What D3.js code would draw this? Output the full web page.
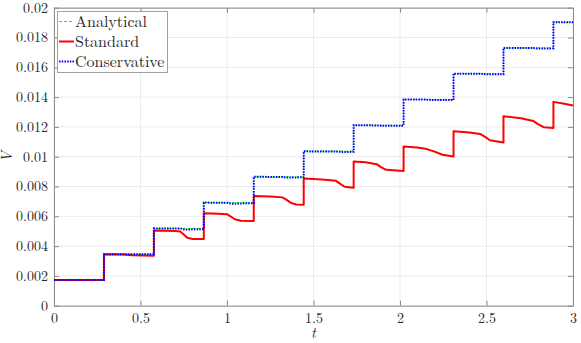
<!doctype html>
<html>
<head>
<style>
  body { margin: 0; background: #fff; }
  svg text { font-family: "Latin Modern Roman", "Liberation Serif", serif; fill: #262626; }
</style>
<script src="https://d3js.org/d3.v7.min.js"></script>
</head>
<body>
<svg width="581" height="343"></svg>
<script>
// jump instants and the exact (analytical) level after each jump
var jumpTimes = [0, 0.2887, 0.5774, 0.866, 1.1547, 1.4434, 1.7321, 2.0207, 2.3094, 2.5981, 2.8868, 3];
var analyticalLevels = [0.00173, 0.00346, 0.00519, 0.00692, 0.00865, 0.01038, 0.01211, 0.01384, 0.01557, 0.0173, 0.01903, 0.01903];

// conservative scheme, nearly on top of the analytical one
var conservative = [
  [0, 0.00173], [0.2887, 0.00173], [0.2887, 0.00346], [0.5774, 0.00345],
  [0.5774, 0.00519], [0.73, 0.00518], [0.76, 0.00510], [0.78, 0.00512], [0.866, 0.00514],
  [0.866, 0.00692], [1.0, 0.00691], [1.03, 0.00684], [1.06, 0.00686], [1.1547, 0.00688],
  [1.1547, 0.00865], [1.32, 0.00864], [1.35, 0.00860], [1.4434, 0.00862],
  [1.4434, 0.01036], [1.64, 0.01034], [1.67, 0.01031], [1.7321, 0.01033],
  [1.7321, 0.01211], [1.87, 0.01210], [1.90, 0.01207], [2.0207, 0.01208],
  [2.0207, 0.01384], [2.16, 0.01383], [2.19, 0.01380], [2.3094, 0.01381],
  [2.3094, 0.01557], [2.47, 0.01556], [2.50, 0.01553], [2.5981, 0.01554],
  [2.5981, 0.0173], [2.77, 0.01729], [2.80, 0.01726], [2.8868, 0.01727],
  [2.8868, 0.01903], [3, 0.01902]
];

// standard scheme
var standard = [
  [0, 0.00173], [0.2887, 0.00173],
  [0.2887, 0.00346], [0.40, 0.00344], [0.45, 0.00338], [0.5774, 0.00336],
  [0.5774, 0.00504], [0.70, 0.00502], [0.73, 0.00498], [0.75, 0.00478], [0.77, 0.00456], [0.80, 0.00448], [0.866, 0.00448],
  [0.866, 0.00620], [0.95, 0.00617], [1.0, 0.00614], [1.02, 0.00600], [1.045, 0.00580], [1.08, 0.00570], [1.1547, 0.00568],
  [1.1547, 0.00737], [1.25, 0.00733], [1.32, 0.00727], [1.345, 0.00710], [1.37, 0.00690], [1.40, 0.00679], [1.4434, 0.00677],
  [1.4434, 0.00854], [1.55, 0.00847], [1.63, 0.00838], [1.655, 0.00818], [1.68, 0.00798], [1.7321, 0.00792],
  [1.7321, 0.00968], [1.80, 0.00962], [1.865, 0.00950], [1.89, 0.00930], [1.92, 0.00912], [2.0207, 0.00904],
  [2.0207, 0.01069], [2.10, 0.01062], [2.155, 0.01051], [2.20, 0.01034], [2.245, 0.01013], [2.3094, 0.01002],
  [2.3094, 0.01170], [2.40, 0.01162], [2.465, 0.01152], [2.49, 0.01135], [2.52, 0.01110], [2.5981, 0.01096],
  [2.5981, 0.01271], [2.70, 0.01258], [2.77, 0.01240], [2.795, 0.01220], [2.83, 0.01198], [2.8868, 0.01193],
  [2.8868, 0.01368], [2.95, 0.01355], [3, 0.01343]
];

var xTicks = [0, 0.5, 1, 1.5, 2, 2.5, 3];
var yTicks = [0, 0.002, 0.004, 0.006, 0.008, 0.01, 0.012, 0.014, 0.016, 0.018, 0.02];
var legendNames = ["Analytical", "Standard", "Conservative"];

var svg = d3.select("svg"),
    plotLeft = 54, plotTop = 7.7, plotRight = 573, plotBottom = 305.7;

var x = d3.scaleLinear().domain([0, 3]).range([plotLeft, plotRight]),
    y = d3.scaleLinear().domain([0, 0.02]).range([plotBottom, plotTop]);

var axisColor = "#8c8c8c";
var serif = "'Latin Modern Roman', 'Liberation Serif', serif";

// grid
svg.append("g").selectAll("line").data(xTicks).enter().append("line")
  .attr("x1", d => x(d)).attr("x2", d => x(d)).attr("y1", plotTop).attr("y2", plotBottom)
  .attr("stroke", "#ebebeb").attr("stroke-width", 1);
svg.append("g").selectAll("line").data(yTicks).enter().append("line")
  .attr("x1", plotLeft).attr("x2", plotRight).attr("y1", d => y(d)).attr("y2", d => y(d))
  .attr("stroke", "#ebebeb").attr("stroke-width", 1);

function styleAxis(g, labels) {
  g.attr("font-family", null);
  g.select(".domain").attr("stroke", axisColor);
  g.selectAll(".tick line").attr("stroke", axisColor);
  g.selectAll(".tick text").attr("fill", "#262626")
    .style("font-family", serif).style("font-size", "14px");
  if (!labels) g.selectAll(".tick text").remove();
}

var fmt = d => d === 0 ? "0" : String(+d.toFixed(3));

styleAxis(svg.append("g").attr("transform", "translate(0," + plotBottom + ")")
  .call(d3.axisBottom(x).tickValues(xTicks).tickFormat(fmt).tickSizeInner(-5).tickSizeOuter(0).tickPadding(7)), true);
styleAxis(svg.append("g").attr("transform", "translate(0," + plotTop + ")")
  .call(d3.axisTop(x).tickValues(xTicks).tickSizeInner(-5).tickSizeOuter(0)), false);
styleAxis(svg.append("g").attr("transform", "translate(" + plotLeft + ",0)")
  .call(d3.axisLeft(y).tickValues(yTicks).tickFormat(fmt).tickSizeInner(-5).tickSizeOuter(0).tickPadding(6)), true);
styleAxis(svg.append("g").attr("transform", "translate(" + plotRight + ",0)")
  .call(d3.axisRight(y).tickValues(yTicks).tickSizeInner(-5).tickSizeOuter(0)), false);

// axis labels
svg.append("text").attr("x", x(1.5)).attr("y", 338).attr("text-anchor", "middle")
  .style("font-style", "italic").style("font-size", "15px").text("t");
svg.append("text").attr("transform", "translate(12," + y(0.01) + ") rotate(-90)")
  .attr("text-anchor", "middle").style("font-style", "italic").style("font-size", "15px").text("V");

// series
var analytical = jumpTimes.map((t, i) => [t, analyticalLevels[i]]);
var stepLine = d3.line().x(d => x(d[0])).y(d => y(d[1])).curve(d3.curveStepAfter);
var line = d3.line().x(d => x(d[0])).y(d => y(d[1]));

svg.append("path").datum(analytical).attr("d", stepLine)
  .attr("fill", "none").attr("stroke", "#00ff00").attr("stroke-width", 1).attr("stroke-dasharray", "3,2");
svg.append("path").datum(standard).attr("d", line)
  .attr("fill", "none").attr("stroke", "#ff0000").attr("stroke-width", 2).attr("stroke-linejoin", "round");
svg.append("path").datum(conservative).attr("d", line)
  .attr("fill", "none").attr("stroke", "#0000ff").attr("stroke-width", 2).attr("stroke-dasharray", "1.5,1.2");

// legend
var lg = svg.append("g");
lg.append("rect").attr("x", 57.5).attr("y", 11.5).attr("width", 110).attr("height", 61)
  .attr("fill", "#fff").attr("stroke", "#a0a0a0").attr("stroke-width", 1);
var legendStyle = [
  {c: "#00ff00", w: 1, dash: "3,2"},
  {c: "#ff0000", w: 2, dash: null},
  {c: "#0000ff", w: 2, dash: "1.5,1.2"}
];
legendNames.forEach(function (name, i) {
  var cy = 21.5 + i * 20;
  lg.append("line").attr("x1", 59).attr("x2", 74).attr("y1", cy).attr("y2", cy)
    .attr("stroke", legendStyle[i].c).attr("stroke-width", legendStyle[i].w)
    .attr("stroke-dasharray", legendStyle[i].dash);
  lg.append("text").attr("x", 75).attr("y", cy + 5.5).style("font-size", "16px").text(name);
});
</script>
</body>
</html>
